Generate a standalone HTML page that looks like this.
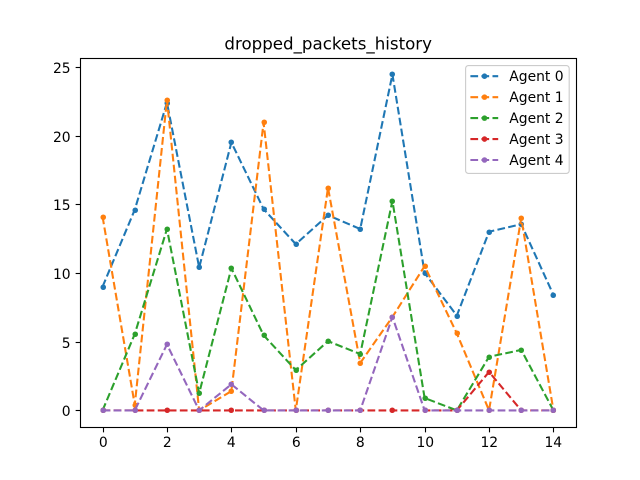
<!DOCTYPE html>
<html>
<head>
<meta charset="utf-8">
<title>dropped_packets_history</title>
<style>
html,body{margin:0;padding:0;background:#fff;}
svg{display:block;}
text{font-family:"DejaVu Sans","Liberation Sans",sans-serif;fill:#000;}
</style>
</head>
<body>
<svg id="chart" xmlns="http://www.w3.org/2000/svg" width="640" height="480" viewBox="0 0 640 480">
  <rect x="0" y="0" width="640" height="480" fill="#fff"/>
  <text x="328.2" y="49.3" font-size="16.67" text-anchor="middle">dropped_packets_history</text>
  <g id="series-layer"></g>
  <g id="axes-layer"></g>
  <g id="legend-layer"></g>
</svg>
<script>
const categories = [0, 1, 2, 3, 4, 5, 6, 7, 8, 9, 10, 11, 12, 13, 14];
const agent0 = [9.0, 14.6, 22.4, 10.4, 19.5, 14.65, 12.1, 14.2, 13.2, 24.45, 10.0, 6.9, 13.0, 13.55, 8.4];
const agent1 = [14.1, 0.4, 22.6, 0, 1.4, 20.95, 0, 16.2, 3.45, 6.8, 10.5, 5.6, 0, 14.0, 0];
const agent2 = [0, 5.55, 13.2, 1.25, 10.35, 5.47, 2.93, 5.04, 4.1, 15.25, 0.9, 0, 3.9, 4.4, 0];
const agent3 = [0, 0, 0, 0, 0, 0, 0, 0, 0, 0, 0, 0, 2.8, 0, 0];
const agent4 = [0, 0, 4.8, 0, 1.9, 0, 0, 0, 0, 6.8, 0, 0, 0, 0, 0];
const seriesLabels = ["Agent 0", "Agent 1", "Agent 2", "Agent 3", "Agent 4"];
const seriesColors = ["#1f77b4", "#ff7f0e", "#2ca02c", "#d62728", "#9467bd"];
const xTickLabels = [0, 2, 4, 6, 8, 10, 12, 14];
const yTickLabels = [0, 5, 10, 15, 20, 25];

const allSeries = [agent0, agent1, agent2, agent3, agent4];
const NS = "http://www.w3.org/2000/svg";
const plotLeft = 80, plotRight = 576, plotTop = 57.6, plotBottom = 427.2;

function extent(values) {
  const lo = Math.min.apply(null, values), hi = Math.max.apply(null, values);
  const pad = (hi - lo) * 0.05;
  return [lo - pad, hi + pad];
}
const xDomain = extent(categories);
const yDomain = extent([].concat(agent0, agent1, agent2, agent3, agent4));
function xScale(v) {
  return plotLeft + (v - xDomain[0]) / (xDomain[1] - xDomain[0]) * (plotRight - plotLeft);
}
function yScale(v) {
  return plotBottom - (v - yDomain[0]) / (yDomain[1] - yDomain[0]) * (plotBottom - plotTop);
}
function snapLine(v) {
  return Math.floor(v + 0.5) + 0.5;
}
function snapMarker(v) {
  return Math.round(v) + 0.25;
}
function make(tag, attrs, parent) {
  const el = document.createElementNS(NS, tag);
  Object.keys(attrs).forEach(function (k) { el.setAttribute(k, attrs[k]); });
  parent.appendChild(el);
  return el;
}

const seriesLayer = document.getElementById("series-layer");
allSeries.forEach(function (values, s) {
  const g = make("g", {}, seriesLayer);
  
  
  const pts = values.map(function (v, i) { return xScale(categories[i]).toFixed(2) + "," + yScale(v).toFixed(2); }).join(" ");
  const line = make("polyline", {points: pts, fill: "none", stroke: seriesColors[s], "stroke-width": 2.08, "stroke-dasharray": "7.71 3.33", "stroke-linejoin": "round"}, g);
  
  
  values.forEach(function (v, i) {
    const dot = make("circle", {cx: snapMarker(xScale(categories[i])), cy: snapMarker(yScale(v)), r: 2.78, fill: seriesColors[s]}, g);
    
    
  });
});

const axesLayer = document.getElementById("axes-layer");
const frameLeft = snapLine(plotLeft), frameRight = snapLine(plotRight), frameTop = snapLine(plotTop), frameBottom = snapLine(plotBottom);
const frame = make("rect", {x: frameLeft, y: frameTop, width: frameRight - frameLeft, height: frameBottom - frameTop, fill: "none", stroke: "#000", "stroke-width": 1.11}, axesLayer);



xTickLabels.forEach(function (t) {
  const x = snapLine(xScale(t));
  const tick = make("line", {x1: x, x2: x, y1: frameBottom, y2: frameBottom + 4.86, stroke: "#000", "stroke-width": 1.11}, axesLayer);
  
  
  const label = make("text", {x: x - 0.2, y: 447, "font-size": 13.89, "text-anchor": "middle"}, axesLayer);
  
  
  label.textContent = t;
});

yTickLabels.forEach(function (t) {
  const y = snapLine(yScale(t));
  const tick = make("line", {x1: frameLeft - 4.86, x2: frameLeft, y1: y, y2: y, stroke: "#000", "stroke-width": 1.11}, axesLayer);
  
  
  const label = make("text", {x: 70.6, y: y + 5.3, "font-size": 13.89, "text-anchor": "end"}, axesLayer);
  
  
  label.textContent = t;
});

const legendLayer = document.getElementById("legend-layer");
const legendBox = make("rect", {x: 465.6, y: 65.6, width: 103.6, height: 107.8, rx: 2.8, ry: 2.8, fill: "#fff", "fill-opacity": 0.8, stroke: "#ccc", "stroke-width": 1.11}, legendLayer);



seriesLabels.forEach(function (name, s) {
  const y = 76.2 + s * 20.95;
  const g = make("g", {}, legendLayer);
  
  
  const h = make("line", {x1: 470.4, x2: 498.2, y1: y, y2: y, stroke: seriesColors[s], "stroke-width": 2.08, "stroke-dasharray": "7.71 3.33"}, g);
  
  
  const m = make("circle", {cx: 484.5, cy: y, r: 2.78, fill: seriesColors[s]}, g);
  
  
  const label = make("text", {x: 509.3, y: y + 5, "font-size": 13.89}, g);
  
  
  label.textContent = name;
});
</script>
</body>
</html>
